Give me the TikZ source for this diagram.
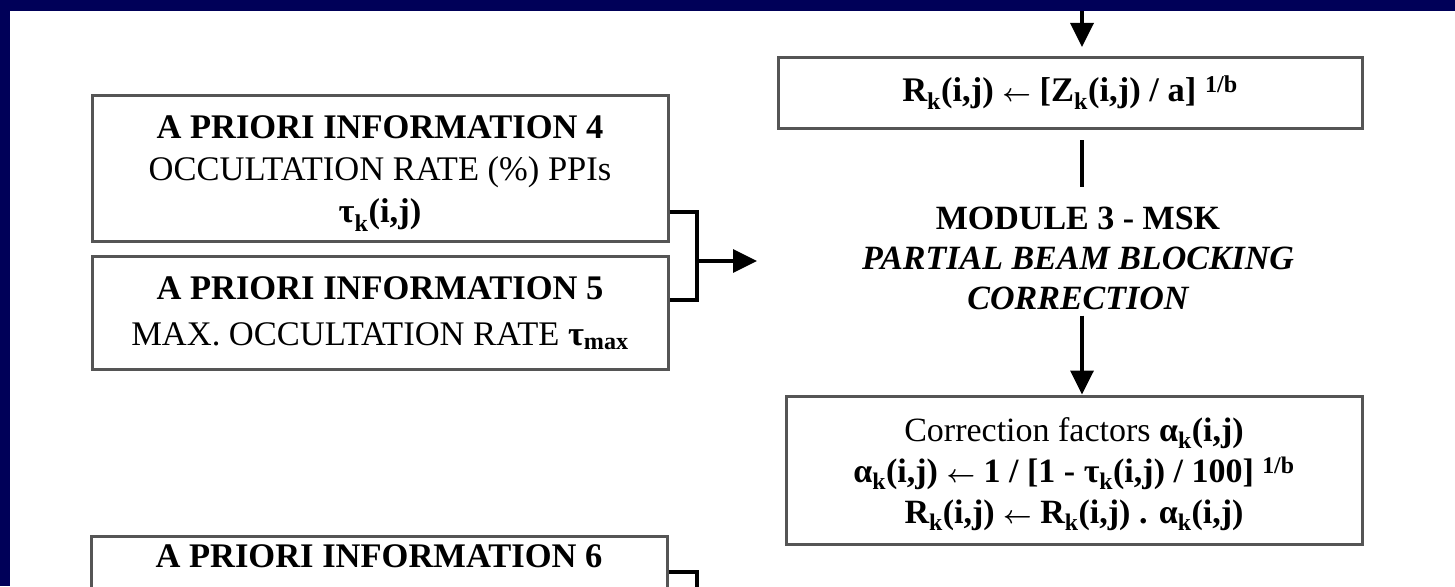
\documentclass[tikz,border=0pt]{standalone}
\usepackage{amsmath}
\usepackage{fontspec}
\setmainfont{Liberation Serif}
\usepackage{xcolor}
\usetikzlibrary{arrows.meta,positioning,calc}
\definecolor{framenavy}{RGB}{0,0,88}
\definecolor{boxgray}{RGB}{85,85,85}
\newcommand{\getsarrow}{\ $\boldsymbol{\leftarrow}$\ }

\begin{document}
\begin{tikzpicture}[x=1pt,y=-1pt,
    infobox/.style={rectangle, draw=boxgray, line width=3pt, minimum width=576pt, align=center, inner sep=0pt, font=\fontsize{34.5}{42}\selectfont},
    link/.style={line width=3.5pt, black},
    flow/.style={link, -{Triangle[length=24pt,width=23pt]}}]
    \useasboundingbox (0,0) rectangle (1455,586);
    \clip (0,0) rectangle (1455,586);
    \fill[framenavy] (0,0) rectangle (1455,11);
    \fill[framenavy] (0,0) rectangle (10,586);

    % right column
    \node[infobox, minimum width=584pt, minimum height=71pt] (rk) at (1070,93) {\bfseries R\textsubscript{k}(i,j)\getsarrow[Z\textsubscript{k}(i,j) / a] \textsuperscript{1/b}};
    \node[align=center, inner sep=0pt, font=\fontsize{34}{40}\selectfont\bfseries] (msk) at (1078,258) {MODULE 3 - MSK\\ \itshape PARTIAL BEAM BLOCKING\\ \itshape CORRECTION};
    \node[infobox, minimum height=148pt, font=\fontsize{34}{41}\selectfont] (corr) at (1074,470) {\rule{0pt}{32pt}Correction factors {\bfseries α\textsubscript{k}(i,j)}\\ {\bfseries α\textsubscript{k}(i,j)\getsarrow 1 / [1 - τ\textsubscript{k}(i,j) / 100] \textsuperscript{1/b}}\\ {\bfseries R\textsubscript{k}(i,j)\getsarrow R\textsubscript{k}(i,j) . α\textsubscript{k}(i,j)}};

    % left column
    \node[infobox, minimum height=146pt] (info4) at (380,168.5) {\rule{0pt}{33pt}{\bfseries A PRIORI INFORMATION 4}\\ OCCULTATION RATE (\%) PPIs\\ {\bfseries τ\textsubscript{k}(i,j)}};
    \node[infobox, minimum height=113pt, font=\fontsize{34.5}{46}\selectfont] (info5) at (380,313) {{\bfseries A PRIORI INFORMATION 5}\\ MAX. OCCULTATION RATE {\bfseries τ\textsubscript{max}}};
    \node[infobox, anchor=north, inner ysep=8pt] (info6) at (379,535) {\bfseries A PRIORI INFORMATION 6\rule[-70pt]{0pt}{1pt}};

    \coordinate (feed) at (1082,11);
    \coordinate (join) at (697,261);
    \coordinate (mskin) at (757,261);
    \coordinate (join6) at (697,600);

    \draw[flow, shorten >=9pt] (feed) -- (feed |- rk.north);
    \draw[link, shorten <=10pt, shorten >=19pt] (rk.south -| feed) -- (msk.north -| feed);
    \draw[flow, shorten <=6pt] (msk.south -| feed) -- (corr.north -| feed);
    \draw[link] ([yshift=31pt]info4.south east) -| (join) |- ([yshift=-45pt]info5.north east);
    \draw[flow] (join) -- (mskin);
    \draw[link] ([yshift=-37pt]info6.north east) -| (join6);
\end{tikzpicture}
\end{document}
